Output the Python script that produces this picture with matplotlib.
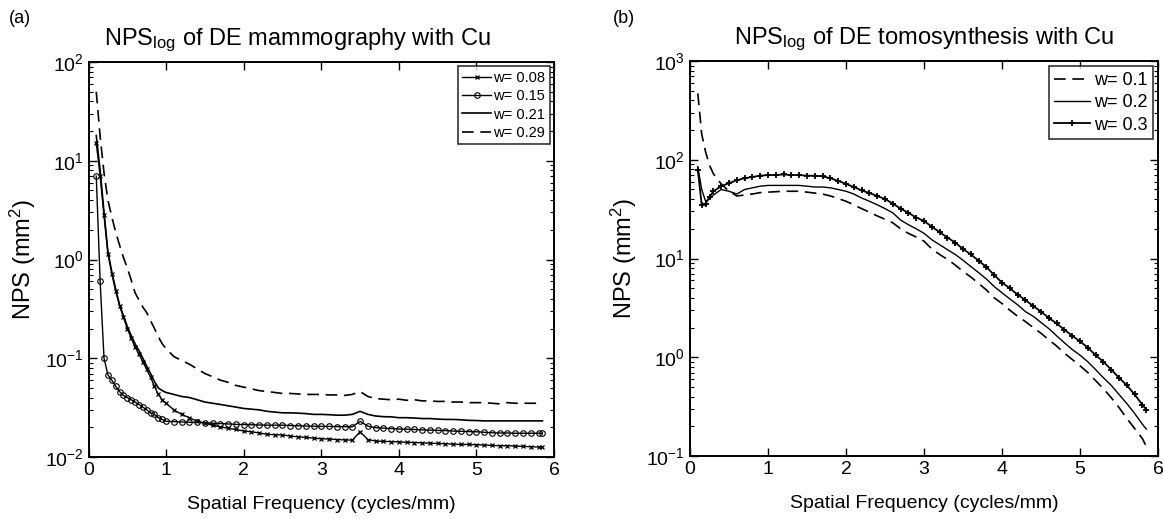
import numpy as np
import matplotlib
matplotlib.use("Agg")
import matplotlib.pyplot as plt
from matplotlib.ticker import LogLocator, NullFormatter

plt.rcParams['font.family'] = ['Liberation Sans', 'DejaVu Sans']
plt.rcParams['mathtext.fontset'] = 'custom'
plt.rcParams['mathtext.rm'] = 'Liberation Sans'
plt.rcParams['mathtext.it'] = 'Liberation Sans:italic'

# ---- panel (a): DE mammography ----
step_a = [0.1, 0.15, 0.2, 0.25, 0.3, 0.35, 0.4, 0.45, 0.5, 0.55, 0.6, 0.65,
          0.7, 0.75, 0.8, 0.85, 0.9, 0.95]
tail = [1.0, 1.1, 1.2, 1.3, 1.4, 1.5, 1.6, 1.7, 1.8, 1.9, 2.0, 2.1, 2.2, 2.3,
        2.4, 2.5, 2.6, 2.7, 2.8, 2.9, 3.0, 3.1, 3.2, 3.3, 3.4, 3.5, 3.6, 3.7,
        3.8, 3.9, 4.0, 4.1, 4.2, 4.3, 4.4, 4.5, 4.6, 4.7, 4.8, 4.9, 5.0, 5.1,
        5.2, 5.3, 5.4, 5.5, 5.6, 5.7, 5.8, 5.85]
freq_a = step_a + tail

nps_w008 = [15, 7.0, 2.8, 1.15, 0.72, 0.48, 0.34, 0.26, 0.2, 0.16, 0.13, 0.11,
            0.092, 0.077, 0.064, 0.052, 0.043, 0.038,
            0.035, 0.03, 0.027, 0.025, 0.023, 0.022, 0.021, 0.0202, 0.0195, 0.019,
            0.0183, 0.018, 0.0175, 0.017, 0.0168, 0.0167, 0.0163, 0.016, 0.0158,
            0.0155, 0.0153, 0.0152, 0.015, 0.0149, 0.0148, 0.018, 0.015, 0.0145,
            0.0144, 0.0143, 0.0142, 0.0141, 0.014, 0.0139, 0.0138, 0.0137, 0.0136,
            0.0135, 0.0134, 0.0134, 0.0133, 0.0132, 0.0131, 0.013, 0.013, 0.0129,
            0.0128, 0.0127, 0.0126, 0.0126]
nps_w015 = [7.0, 0.6, 0.1, 0.068, 0.06, 0.052, 0.046, 0.042, 0.04, 0.038, 0.036,
            0.034, 0.032, 0.03, 0.028, 0.027, 0.025, 0.024,
            0.023, 0.0228, 0.0226, 0.0225, 0.0224, 0.0222, 0.022, 0.0218, 0.0216,
            0.0214, 0.0213, 0.0212, 0.0211, 0.021, 0.021, 0.021, 0.0208, 0.0207,
            0.0206, 0.0205, 0.0204, 0.0204, 0.0203, 0.0203, 0.0202, 0.023, 0.0205,
            0.0198, 0.0196, 0.0194, 0.0192, 0.0191, 0.019, 0.0188, 0.0187, 0.0186,
            0.0185, 0.0183, 0.0182, 0.0181, 0.018, 0.0178, 0.0176, 0.0175, 0.0175,
            0.0174, 0.0174, 0.0174, 0.0174, 0.0174]
nps_w021 = [18, 8.0, 3.0, 1.2, 0.75, 0.5, 0.35, 0.27, 0.21, 0.17, 0.14, 0.12,
            0.1, 0.083, 0.07, 0.058, 0.05, 0.047,
            0.045, 0.043, 0.041, 0.04, 0.038, 0.036, 0.035, 0.034, 0.033, 0.032,
            0.031, 0.0305, 0.03, 0.029, 0.0285, 0.028, 0.028, 0.0278, 0.0275,
            0.027, 0.027, 0.0268, 0.0265, 0.0265, 0.027, 0.029, 0.027, 0.026,
            0.0256, 0.0255, 0.025, 0.025, 0.0248, 0.0245, 0.0245, 0.0242, 0.024,
            0.024, 0.0238, 0.0235, 0.0234, 0.0232, 0.0232, 0.0232, 0.0232, 0.0232,
            0.0232, 0.0232, 0.0232, 0.0232]
nps_w029 = [50, 17.6, 7.5, 4.0, 2.7, 1.9, 1.4, 1.05, 0.82, 0.62, 0.46, 0.39,
            0.33, 0.29, 0.24, 0.2, 0.165, 0.14,
            0.125, 0.104, 0.095, 0.087, 0.078, 0.07, 0.065, 0.06, 0.057, 0.053,
            0.051, 0.049, 0.047, 0.046, 0.045, 0.044, 0.044, 0.0435, 0.043, 0.043,
            0.043, 0.0425, 0.0425, 0.042, 0.043, 0.046, 0.041, 0.039, 0.0385,
            0.038, 0.0385, 0.0375, 0.038, 0.037, 0.037, 0.0365, 0.0366, 0.036,
            0.036, 0.0355, 0.0355, 0.0355, 0.035, 0.0345, 0.0355, 0.035, 0.035,
            0.035, 0.035, 0.035]

# ---- panel (b): DE tomosynthesis ----
freq_b = [0.1, 0.15, 0.2, 0.25, 0.3, 0.4, 0.5, 0.6, 0.7, 0.8, 0.9] + tail

nps_w01 = [470, 182, 120, 88, 72, 57, 48, 43, 44, 45, 46.5,
           47, 47.5, 48, 48, 48, 47, 46, 45, 43, 40.5, 38, 35, 32, 29.5, 27, 25,
           23, 20, 18, 16.5, 15, 12.5, 11, 9.8, 8.6, 7.4, 6.5, 5.6, 4.8, 4.0, 3.5,
           3.0, 2.6, 2.3, 2.0, 1.75, 1.5, 1.3, 1.1, 0.95, 0.82, 0.7, 0.58, 0.48,
           0.39, 0.31, 0.24, 0.19, 0.15, 0.125]
nps_w02 = [85, 50, 38, 40, 44, 50, 48, 45, 50, 52, 54,
           55, 55, 55, 55, 55, 54, 53, 53, 52, 50, 48, 45, 41, 38, 35, 32, 29,
           24.5, 22, 20, 18, 15.5, 13.8, 12.3, 11, 9.6, 8.3, 7.2, 6.2, 5.2, 4.5,
           3.9, 3.4, 2.9, 2.6, 2.25, 1.95, 1.65, 1.4, 1.2, 1.05, 0.9, 0.75, 0.62,
           0.52, 0.42, 0.34, 0.27, 0.21, 0.187]
nps_w03 = [79, 35, 36, 42, 48, 54, 58, 62, 65, 67, 69,
           70, 70, 71, 70, 70, 69, 69, 68, 65, 61, 57, 53, 49, 46, 43, 40, 36, 32,
           29, 26, 24, 21, 18.5, 16.3, 14.5, 12.5, 11, 9.5, 8.2, 6.8, 5.7, 5.0,
           4.3, 3.8, 3.3, 2.9, 2.5, 2.2, 1.9, 1.65, 1.45, 1.25, 1.05, 0.9, 0.75,
           0.62, 0.52, 0.42, 0.33, 0.295]

fig = plt.figure(figsize=(11.63, 5.19), dpi=100)
ax_a = fig.add_axes([0.0761, 0.1195, 0.4003, 0.761])
ax_b = fig.add_axes([0.5933, 0.1214, 0.4024, 0.761])


def style_axes(ax, ylo, yhi):
    ax.set_yscale('log')
    ax.set_xlim(0, 6)
    ax.set_ylim(ylo, yhi)
    ax.set_xticks(range(7))
    ax.yaxis.set_major_locator(LogLocator(base=10, numticks=10))
    ax.yaxis.set_minor_locator(LogLocator(base=10, subs=np.arange(2, 10), numticks=10))
    ax.yaxis.set_minor_formatter(NullFormatter())
    ax.tick_params(which='both', direction='in', top=True, right=True)
    ax.tick_params(which='major', length=6, width=1, labelsize=14)
    ax.tick_params(which='minor', length=3, width=0.8)
    for s in ax.spines.values():
        s.set_linewidth(1.4)
    ax.set_xlabel('Spatial Frequency (cycles/mm)', fontsize=14, labelpad=12)
    ax.set_ylabel('NPS (mm$^2$)', fontsize=17, labelpad=5)


ax_a.plot(freq_a, nps_w008, color='black', lw=1.0, marker='x', ms=3.5, mew=0.9,
          label='w= 0.08')
ax_a.plot(freq_a, nps_w015, color='black', lw=1.0, marker='o', ms=4, mfc='none',
          mew=0.8, label='w= 0.15')
ax_a.plot(freq_a, nps_w021, color='black', lw=1.2, label='w= 0.21')
ax_a.plot(freq_a, nps_w029, color='black', lw=1.2, ls=(0, (7, 4)), label='w= 0.29')
style_axes(ax_a, 1e-2, 1e2)
ax_a.set_title('NPS$_{\\mathrm{log}}$ of DE mammography with Cu', fontsize=17,
               pad=12, x=0.45)
leg = ax_a.legend(loc='upper right', fontsize=10.5, frameon=True, fancybox=False,
                  edgecolor='black', handlelength=2.0, borderpad=0.3,
                  labelspacing=0.3, handletextpad=0.15, borderaxespad=0.3)
leg.get_frame().set_linewidth(1.2)

ax_b.plot(freq_b, nps_w01, color='black', lw=1.2, ls=(0, (7, 4)), label='w= 0.1')
ax_b.plot(freq_b, nps_w02, color='black', lw=1.0, label='w= 0.2')
ax_b.plot(freq_b, nps_w03, color='black', lw=1.3, marker='+', ms=4, mew=1.3,
          label='w= 0.3')
style_axes(ax_b, 1e-1, 1e3)
ax_b.set_title('NPS$_{\\mathrm{log}}$ of DE tomosynthesis with Cu', fontsize=17, pad=12)
leg = ax_b.legend(loc='upper right', fontsize=13, frameon=True, fancybox=False,
                  edgecolor='black', handlelength=2.0, borderpad=0.3,
                  labelspacing=0.3, handletextpad=0.2, borderaxespad=0.3)
leg.get_frame().set_linewidth(1.2)

fig.text(0.008, 0.955, '(a)', fontsize=13)
fig.text(0.527, 0.955, '(b)', fontsize=13)

fig.savefig('out.png', dpi=100)
